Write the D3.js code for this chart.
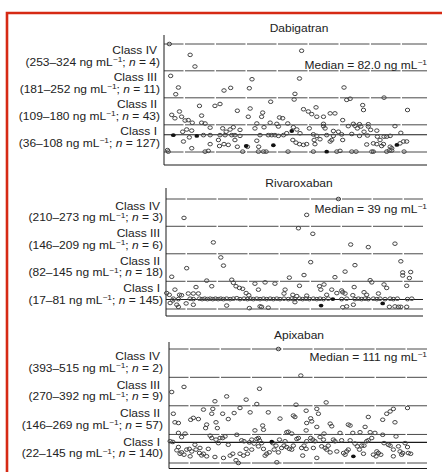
<!DOCTYPE html>
<html>
<head>
<meta charset="utf-8">
<script src="https://cdn.jsdelivr.net/npm/d3@7"></script>
<style>
  body { margin: 0; background: #fff; }
  text { font-family: "Liberation Sans", Arial, sans-serif; fill: #222; font-size: 10px; }
</style>
</head>
<body>
<svg id="chart" width="442" height="472"></svg>
<script>
// class names shared by the three panels
const classNames = ["Class I", "Class II", "Class III", "Class IV"]

// Dabigatran
const dabigatranBounds = [36, 108.5, 180.5, 252.5, 324]
const dabigatranRanges = ["36–108", "109–180", "181–252", "253–324"]
const dabigatranN = [127, 43, 11, 4]
const dabigatranMedian = 82.0
// [order across the panel (0-100), concentration ng/mL]
const dabigatranOpen = [
  [3.5,324],[11.3,295],[13.1,264],[53.1,306],
  [4,239],[6.9,208],[5.9,190],[24,200],[26.5,207],[34.5,230],[33.5,206],[52.3,232],[50.6,191],[69,208],[84,181],
  [14.8,159],[20.6,159],[22.5,164],[29,146],[33.8,152],[33.1,130],[38.5,141],[38.1,130],[41.5,170],[44.8,128],[46,126],
  [50.3,176],[53.8,150],[55.6,144],[58.5,155],[56.9,137],[58.8,130],[61.3,130],[63.8,139],[65.6,139],[68.5,121],[76,161],
  [76.3,148],[92.8,148],[4.4,135],[5.6,126],[7.3,144],[8.1,130],[9.4,120],[10.6,121],[12.1,114],[15.6,133],[15.6,114],
  [16.9,112],[36.3,112],[41.3,114],[43.8,111],[47.9,112],[61.3,111],[72.5,111],[74.8,110],[78.1,110],[70,175],[71.3,178],
  [10,96],[8.5,90],[11.9,93],[18.8,101],[23.5,99],[26.3,96],[27.5,102],[24.8,90],[30,95],[35.6,99],[39,102],[44.4,104],
  [50,102],[51.3,96],[56,99],[61.3,105],[61.9,99],[65,92],[66.9,90],[70.6,105],[73.1,106],[74,99],[75.3,104],[78.1,104],
  [79,95],[81.3,93],[88.1,105],[76.5,90],[90.3,87],
  [16.3,81],[18.8,81],[22.5,81],[24.4,81],[26.9,81],[28.1,81],[30,79],[37.5,81],[40.6,81],[41.9,81],[43.1,81],[44.4,79],
  [46.3,81],[47.5,86],[52.5,86],[57.5,83],[58.8,79],[62.5,81],[65,79],[68.1,83],[71.9,84],[74.8,79],[77.8,80],[81.5,77],
  [84,77],[86.3,79],
  [8.8,64],[11,75],[18.8,57],[21.9,68],[22.3,52],[24,57],[25.6,55],[28.1,68],[29,50],[32.8,50],[36.3,66],[37,50],[49.8,68],
  [51,61],[52.3,57],[53.8,55],[55,57],[57.8,68],[58.1,57],[60,70],[63.8,64],[64.4,68],[68.5,68],[77.5,56],[80,59],[81.3,57],
  [82.5,68],[83.1,52],[83.8,57],[85,77],[86.3,50],[86.9,46],[90,59],[91.3,64],[92.5,64],
  [2.8,41],[3.1,37],[11.9,46],[16.9,37],[18.1,39],[31,37],[36.9,37],[38.8,37],[39.8,37],[48,37],[57.5,37],[66.3,37],
  [67.5,39],[71.9,37],[73.5,37],[79.4,37],[80,37],[85,37],[86,40],[86.9,40],[91.5,37]
]
const dabigatranFilled = [[5,81],[13.8,79],[49.4,92],[42.5,54],[62.5,37],[88.8,55],[32.3,52]]

// Rivaroxaban
const rivaroxabanBounds = [17, 81.5, 145.5, 209.5, 273]
const rivaroxabanRanges = ["17–81", "82–145", "146–209", "210–273"]
const rivaroxabanN = [145, 18, 6, 3]
const rivaroxabanMedian = 39
const rivaroxabanOpen = [
  [9,229],[55,236],[66.9,273],
  [51.9,205],[57.3,192],[20,172],[71.5,167],[78.1,161],[88.1,169],
  [22.8,137],[23.8,118],[10,112],[4.4,92],[56.5,126],[69.4,104],[73.1,119],[90.3,128],[91,102],[94,103],[54,96],
  [48.5,90],[17.5,83],[26.9,85],[65.6,91],[78.8,84],[93.5,89],[91,95],
  [2.5,54],[3.5,50],[5.6,62],[7.3,50],[8.1,49],[10.6,53],[12.5,53],[13.5,68],[14.4,53],[19.4,70],[27.5,78],[28.5,70],
  [29.8,66],[31,64],[32.3,54],[33.3,49],[35.6,76],[36.9,62],[39.4,79],[43.1,76],[46.9,62],[46.5,53],[49.8,50],[52.3,71],
  [51.3,47],[55,48],[59.8,70],[60.3,62],[61.5,74],[62.5,50],[64.4,62],[66.3,54],[68.1,60],[68.5,56],[69.4,53],[72.3,49],
  [72.8,68],[76.5,56],[77.5,50],[79.4,79],[81.9,53],[84,74],[85,66],[92.5,71],
  [5,41],[6.9,40],[11.3,41],[12.5,40],[14.8,41],[15.8,40],[16.8,41],[17.8,40],[18.8,41],[19.8,40],[20.8,41],[21.8,40],
  [22.8,41],[23.8,40],[25,41],[26.3,40],[27.5,41],[28.8,42],[30,40],[31.5,41],[32.8,40],[34,41],[35,40],[36.3,41],
  [37.5,40],[38.8,41],[40,40],[41.3,41],[42.5,40],[43.8,41],[45,40],[46.5,41],[48.1,40],[49.4,41],[50.6,40],[52.3,41],
  [53.5,40],[54.8,41],[56,40],[57.5,41],[58.8,40],[60,41],[61.3,40],[63.1,41],[68.1,40],[70,41],[73.1,40],[74.4,41],
  [75.6,40],[76.9,41],[78.1,40],[80,41],[81.3,40],[82.5,41],[84.4,40],[86.3,41],[87.5,40],[89,41],[92.8,40],[94.4,41],
  [6.3,27],[6.9,22],[9.8,30],[12.5,27],[25,25],[33.5,19],[37.5,23],[38.1,22],[40.6,20],[50.6,33],[68.5,21],[70,23],
  [72.5,27],[86,22],[88.1,23],[89.4,22],[90.3,22],[92.5,22],[3.8,31],[4.8,37]
]
const rivaroxabanFilled = [[60.4,25],[83.5,30],[64.8,40]]

// Apixaban
const apixabanBounds = [22, 145.5, 269.5, 392.5, 515]
const apixabanRanges = ["22–145", "146–269", "270–392", "393–515"]
const apixabanN = [140, 57, 9, 2]
const apixabanMedian = 111
const apixabanOpen = [
  [44.4,515],[52.8,400],
  [4.4,329],[9,351],[37.3,343],[25,310],[20.6,289],[32.3,296],[36.3,277],[51,274],[62.3,284],
  [5,235],[5.6,198],[6.9,195],[11.5,209],[12.5,217],[14.4,212],[16.3,253],[17.1,173],[17.5,188],[19.8,256],[19.4,235],
  [21,198],[21.5,173],[23.5,235],[25.6,212],[27.8,238],[30,260],[33.8,241],[35.6,163],[38.5,184],[38.8,166],[40.6,241],
  [45,214],[50,227],[50.6,221],[54.8,248],[55,195],[56.5,215],[56.9,202],[58.8,256],[59.4,235],[58.8,178],[54.8,163],
  [63.8,192],[64.4,181],[70.6,188],[71.3,184],[72.3,152],[76.9,178],[78.1,221],[80.6,152],[83.5,209],[85,235],[86.3,245],
  [87.5,256],[88.1,198],[92.8,260],[6.9,152],[8.1,134],[9.4,149],[48.1,157],[49.4,149],[47.5,155],[61.5,149],[67.5,152],
  [75,155],[78.8,155],
  [3.8,116],[4.8,113],[6.9,91],[6.3,77],[7.5,62],[8.1,68],[9,58],[10,80],[11,83],[11.9,72],[13.1,101],[13.5,80],[14.8,65],
  [15,87],[15.6,55],[16.3,62],[18.1,83],[18.8,140],[19.4,130],[21,123],[21.9,108],[22.5,130],[23.5,130],[24.4,137],
  [25.6,101],[26.3,54],[27.3,62],[28.8,144],[28.5,34],[29.4,22],[30,62],[30.6,120],[31.5,116],[32.3,83],[32.8,62],
  [33.5,111],[34.4,123],[35.3,106],[36.3,126],[36.9,130],[37.3,120],[38.1,108],[38.8,83],[40,62],[41,68],[42.3,108],
  [42.8,80],[43.5,97],[43.8,25],[44.4,68],[44.8,123],[45.6,87],[46.5,97],[46.9,116],[47.5,91],[48.5,83],[49.4,80],
  [50,97],[51.3,126],[51.9,130],[53.1,87],[54,97],[54.8,83],[53.5,54],[55,116],[56.5,130],[57.3,123],[58.1,116],[58.8,44],
  [60,134],[60.6,94],[61.3,123],[61.9,87],[62.5,80],[63.1,97],[63.8,68],[65,123],[65.6,116],[66.3,72],[68.1,120],
  [68.8,65],[69.4,58],[70,72],[71.3,120],[73.1,106],[74,94],[74.8,80],[75.6,97],[76.5,97],[77.5,116],[78.1,120],
  [79.4,130],[80,58],[81,51],[81.9,65],[82.8,58],[83.5,144],[84,108],[85.6,101],[86.3,97],[87.5,80],[88.5,137],[89.4,94],
  [90,72],[90.6,58],[91.9,108],[92.8,91],[93.1,65],[94,62],[11.3,51],[17.5,51],[20.6,48],[23.8,44],[31.3,54],[34.4,80],
  [36.9,94],[39.4,54],[57.5,87],[70.6,80],[76.3,62],[81.3,72],[87.5,51],[91,65]
]
const apixabanFilled = [[41.9,114],[72.5,51]]

const svg = d3.select('#chart')

// red frame of the figure
svg.append('path')
  .attr('d', 'M7,472V13H442')
  .attr('fill', 'none')
  .attr('stroke', '#d62a14')
  .attr('stroke-width', 2.6)

// patient order runs across every panel
const x = d3.scaleLinear().domain([0, 100]).range([160, 426.7])

// text in the source is a little wider than it is tall
const stretched = (g, tx, ty) => g.append('text').attr('transform', `translate(${tx},${ty}) scale(1.2,1)`)

const panels = [
  { title: 'Dabigatran', bounds: dabigatranBounds, ranges: dabigatranRanges, n: dabigatranN, median: dabigatranMedian,
    medianText: '82.0', open: dabigatranOpen, filled: dabigatranFilled,
    top: 44, bottom: 152, axisTop: 35, axisBottom: 165, axisX: 164, right: 427, labelX: 160, titleY: 31.5, medianY: 68.5 },
  { title: 'Rivaroxaban', bounds: rivaroxabanBounds, ranges: rivaroxabanRanges, n: rivaroxabanN, median: rivaroxabanMedian,
    medianText: '39', open: rivaroxabanOpen, filled: rivaroxabanFilled,
    top: 199, bottom: 309, axisTop: 188, axisBottom: 316, axisX: 166, right: 423, labelX: 163, titleY: 186.5, medianY: 212.5 },
  { title: 'Apixaban', bounds: apixabanBounds, ranges: apixabanRanges, n: apixabanN, median: apixabanMedian,
    medianText: '111', open: apixabanOpen, filled: apixabanFilled,
    top: 349, bottom: 463, axisTop: 342, axisBottom: 468.5, axisX: 169, right: 427, labelX: 163, titleY: 338.5, medianY: 360.5 }
]

panels.forEach(p => {
  const y = d3.scaleLinear().domain([p.bounds[0], p.bounds[4]]).range([p.bottom, p.top])
  const g = svg.append('g')

  // class boundaries
  g.selectAll('line.bound')
    .data(p.bounds)
    .join('line')
    .attr('class', 'bound')
    .attr('x1', p.axisX).attr('x2', p.right)
    .attr('y1', d => y(d)).attr('y2', d => y(d))
    .attr('stroke', '#4a4a4a')
    .attr('stroke-width', 1)
    .attr('stroke-dasharray', '29.5,1.5')
    .attr('stroke-dashoffset', 10)

  // median
  g.append('line')
    .attr('x1', p.axisX).attr('x2', p.right)
    .attr('y1', y(p.median)).attr('y2', y(p.median))
    .attr('stroke', '#1a1a1a')
    .attr('stroke-width', 1.1)

  // axis frame
  g.append('path')
    .attr('d', `M${p.axisX},${p.axisTop}V${p.axisBottom}H${p.right}`)
    .attr('fill', 'none')
    .attr('stroke', '#1a1a1a')
    .attr('stroke-width', 1)

  g.selectAll('ellipse.open')
    .data(p.open)
    .join('ellipse')
    .attr('class', 'open')
    .attr('cx', d => x(d[0]))
    .attr('cy', d => y(d[1]))
    .attr('rx', 2.2).attr('ry', 1.8)
    .attr('fill', 'none')
    .attr('stroke', '#444')
    .attr('stroke-width', 1)

  g.selectAll('ellipse.filled')
    .data(p.filled)
    .join('ellipse')
    .attr('class', 'filled')
    .attr('cx', d => x(d[0]))
    .attr('cy', d => y(d[1]))
    .attr('rx', 2.3).attr('ry', 1.9)
    .attr('fill', '#111')

  // title
  stretched(g, 299, p.titleY).attr('text-anchor', 'middle').text(p.title)

  // median label
  const mt = stretched(g, 427, p.medianY).attr('text-anchor', 'end')
  mt.append('tspan').text(`Median = ${p.medianText} ng mL`)
  mt.append('tspan').attr('dy', -3.5).style('font-size', '7px').text('−1')

  // class labels, two lines per band
  classNames.forEach((name, i) => {
    const cy = (y(p.bounds[i]) + y(p.bounds[i + 1])) / 2
    stretched(g, p.labelX - 3, cy - 3).attr('text-anchor', 'end').text(name)
    const t = stretched(g, p.labelX, cy + 8.5).attr('text-anchor', 'end')
    t.append('tspan').text(`(${p.ranges[i]} ng mL`)
    t.append('tspan').attr('dy', -3.5).style('font-size', '7px').text('−1')
    t.append('tspan').attr('dy', 3.5).text('; ')
    t.append('tspan').style('font-style', 'italic').text('n')
    t.append('tspan').text(` = ${p.n[i]})`)
  })
})
</script>
</body>
</html>
